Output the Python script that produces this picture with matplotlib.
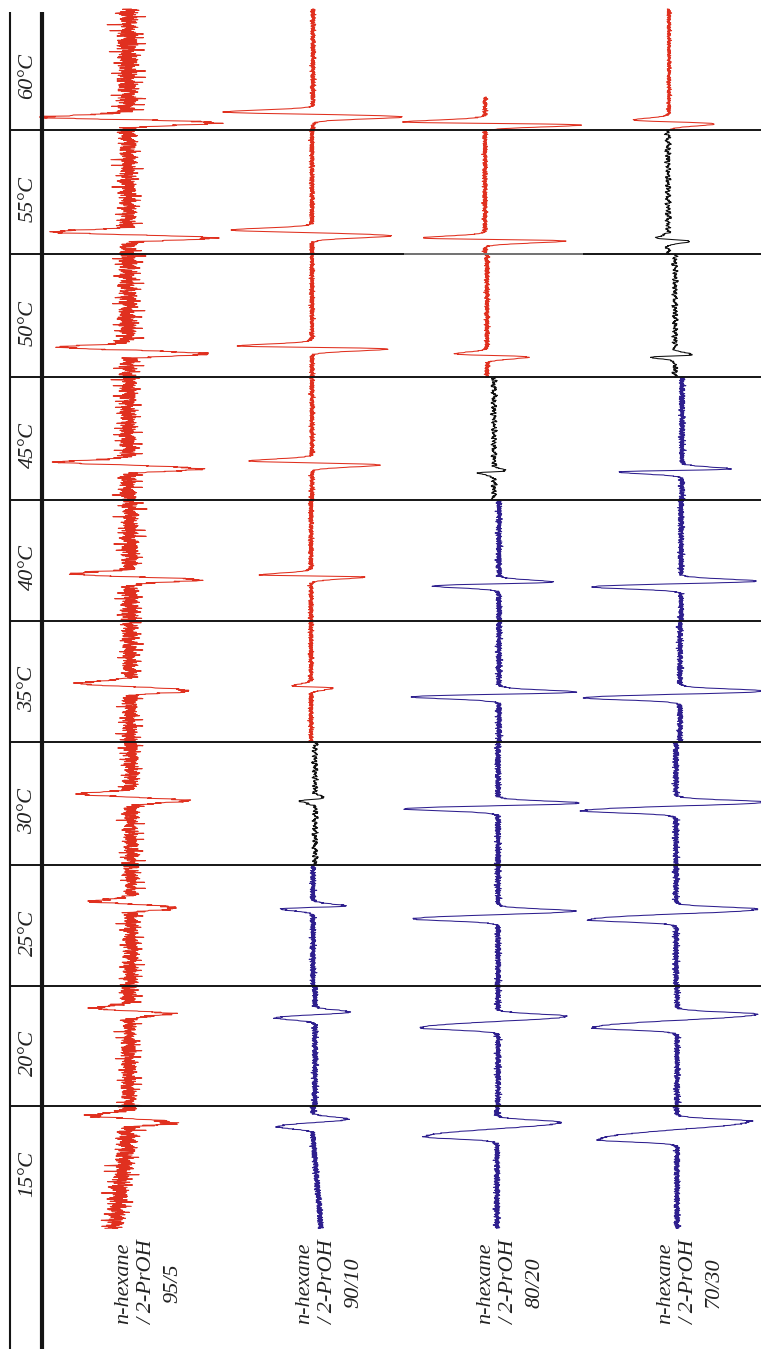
import numpy as np
import matplotlib
matplotlib.use("Agg")
import matplotlib.pyplot as plt

# rows (top to bottom) and columns (left to right)
temps = ["60°C", "55°C", "50°C", "45°C", "40°C", "35°C", "30°C", "25°C", "20°C", "15°C"]
ratios = ["95/5", "90/10", "80/20", "70/30"]

# colour of each spectrum: r = red, k = black, b = blue
cell_color = ["rrrr", "rrrk", "rrrk", "rrkb", "rrbb", "rrbb", "rkbb", "rbbb", "rbbb", "rbbb"]

# field position (inside its row) of the upper / lower extremum of each spectrum
up_pos = [[109, 104, 114, 112], [102, 100, 108, 108], [93, 92, 100, 101], [85, 84, 94, 92],
          [74, 75, 82, 81], [62, 65, 71, 70], [52, 56, 61, 60], [36, 41, 46, 44],
          [22, 26, 30, 28], [9, 13, 16, 15]]
dn_pos = [[115, 109, 117, 116], [108, 106, 111, 111], [100, 95, 103, 103], [92, 88, 96, 95],
          [80, 77, 86, 87], [70, 67, 76, 77], [59, 59, 67, 69], [43, 44, 54, 55],
          [28, 32, 42, 42], [17, 21, 31, 34]]
# signal at those extrema (negative = to the left)
up_amp = [[-84, -88, -81, -35], [-75, -80, -63, -12], [-65, -74, -32, 18], [-65, -63, 11, 48],
          [-57, -50, 54, 75], [-51, -19, 77, 85], [-49, 9, 82, 88], [-36, 33, 76, 82],
          [-34, 35, 68, 79], [-35, 35, 63, 72]]
dn_amp = [[89, 89, 96, 46], [84, 78, 81, 22], [77, 76, 42, -23], [72, 68, -15, -64],
          [67, 53, -66, -89], [57, 22, -87, -95], [53, -16, -93, -93], [43, -32, -84, -87],
          [39, -39, -77, -84], [44, -35, -72, -78]]
# baseline of each spectrum
base_x = [[128, 313, 485, 669], [128, 312, 485, 668], [128, 312, 487, 675], [128, 312, 494, 682],
          [130, 311, 499, 681], [130, 311, 499, 680], [131, 315, 498, 676], [131, 313, 498, 676],
          [129, 315, 498, 677], [128, 313, 497, 677]]
# baseline drift over the 15°C spectra
drift_15 = [-14, 8, 0, 0]
# noise level of each spectrum
noise_amp = [[11, 2.5, 2.5, 2], [9, 2.5, 2.5, 3.5], [10, 2.5, 2.5, 3.5], [9, 2.5, 3.5, 3],
             [9, 2.5, 3, 3], [8, 2.5, 3, 3], [8, 3.5, 3, 3], [8, 3, 3, 3],
             [8, 3, 3, 3], [10, 3, 3, 3]]
# start of the 60°C traces (the 80/20 one is shorter)
start_60 = [1, 1, 89, 1]

# jitter pattern of the baselines
jitter = [0.3, -0.5, 0.8, -0.2, 0.1, -0.9, 0.4, 0.6, -0.3, -0.7, 0.2, 0.9, -0.1, -0.4, 0.5, -0.8, 0.0, 0.7, -0.6, 0.3,
          -0.2, 0.4, -1.0, 0.6, 0.1, -0.3, 0.8, -0.5, 0.2, -0.1, 0.5, -0.7, 0.9, -0.4, 0.0, 0.3, -0.6, 0.7, -0.2, 0.4,
          -0.8, 0.1, 0.6, -0.3, -0.5, 0.2, 0.8, -0.9, 0.3, -0.1, 0.5, -0.4, 0.7, -0.6, 0.1, 0.9, -0.2, -0.7, 0.4, 0.0,
          -0.3, 0.6, -0.5, 0.2, 0.8, -0.8, 0.3, -0.1, 0.5, -0.6, 0.7, 0.1, -0.4, -0.9, 0.2, 0.6, -0.2, 0.4, -0.7, 0.9,
          0.0, -0.5, 0.3, -0.3, 0.7, -0.1, 0.5, -0.8, 0.2, 0.6, -0.4, 0.1, -0.6, 0.8, -0.2, 0.4, -0.9]
spikes = [0, 0, 1.8, 0, 0, 0, -1.5, 0, 0, 0, 0, 2.0, 0, 0, -1.2, 0, 0, 0, 0, 0, 1.4, 0, 0, -2.0, 0, 0, 0, 0,
          1.1, 0, 0, 0, -1.7, 0, 0, 0, 0, 1.6, 0, 0, -1.0]

colors = {"r": "#e0301f", "k": "#111111", "b": "#2e1f8e"}

# layout (pixels)
row_top = [8, 130, 254, 377, 500, 621, 742, 865, 986, 1106, 1228]
label_x = [148, 329, 510, 690]

fig = plt.figure(figsize=(7.61, 13.49), dpi=100)
ax = fig.add_axes([0, 0, 1, 1])
ax.set_xlim(0, 761)
ax.set_ylim(1349, 0)
ax.axis("off")


def lobe(s, w, t=2.5):
    v = np.where(s <= w, s / w, 1 + (s - w) / t)
    return v * np.exp((1 - v ** 2) / 2)


nj, ns = len(jitter), len(spikes)
jit = np.array(jitter)
spk = np.array(spikes)

for i in range(len(temps)):
    top, bottom = row_top[i], row_top[i + 1]
    for j in range(4):
        start = top + (start_60[j] if i == 0 else 0)
        y = np.arange(start, bottom + 0.5, 1 / 3)
        local = y - top
        k = np.arange(len(y))
        off = 13 * i + 29 * j
        c = cell_color[i][j]
        if c == "k":
            noise = 0.7 * jit[(k // 5 + off) % nj] + 0.4 * jit[(k + 3 * off) % nj]
        else:
            sf = 0.5 if j == 0 and c == "r" else 0.25
            noise = jit[(k + off) % nj] + sf * spk[(k // 2 + 7 * i + off) % ns]
        yu, yd = up_pos[i][j], dn_pos[i][j]
        cross = yu + 0.45 * (yd - yu)
        sig = np.where(local < cross,
                       up_amp[i][j] * lobe(np.abs(cross - local), cross - yu),
                       dn_amp[i][j] * lobe(np.abs(local - cross), yd - cross))
        x = base_x[i][j] + noise_amp[i][j] * noise + sig
        if i == len(temps) - 1:
            x = x + drift_15[j] * np.clip((local - 30) / (bottom - top - 30), 0, 1)
        ax.plot(x, y, color=colors[c], lw=0.75, solid_joinstyle="round", zorder=2)

# frame lines
ax.vlines(10, 12, 1349, color="#151515", lw=1.5, zorder=3)
ax.vlines(42, 12, 1349, color="#151515", lw=3.0, zorder=3)
ax.hlines(row_top[1:-1], 10, 761, color="#151515", lw=1.4, zorder=3)
ax.hlines(254, 404, 583, color="#777777", lw=1.4, zorder=4)

font = dict(family="Liberation Serif", style="italic", size=16, color="#222222")
for i, t in enumerate(temps):
    ax.text(28, (row_top[i] + row_top[i + 1]) / 2 + 7, t, rotation=90,
            ha="center", va="center", **font)
for j, r in enumerate(ratios):
    ax.text(label_x[j], 1283, "n-hexane\n/ 2-PrOH\n" + r, rotation=90, ha="center", va="center",
            multialignment="center", linespacing=1.4, **font)

fig.savefig("out.png", dpi=100)
